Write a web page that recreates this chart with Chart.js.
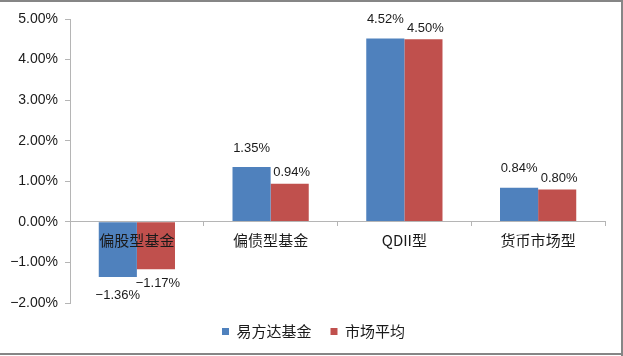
<!DOCTYPE html>
<html>
<head>
<meta charset="utf-8">
<script src="https://cdn.jsdelivr.net/npm/chart.js@4.4.0/dist/chart.umd.min.js"></script>
<style>
html,body{margin:0;padding:0;background:#fff;}
#wrap{width:623px;height:356px;position:relative;}
</style>
</head>
<body>
<div id="wrap"><canvas id="c" width="623" height="356"></canvas></div>
<script>
const categories = ['偏股型基金', '偏债型基金', 'QDII型', '货币市场型'];
const seriesNames = ['易方达基金', '市场平均'];
const efundValues = [-1.36, 1.35, 4.52, 0.84];
const marketValues = [-1.17, 0.94, 4.50, 0.80];
const yTicks = [-2, -1, 0, 1, 2, 3, 4, 5];

const CJK = '"Noto Sans CJK SC", "Noto Sans", sans-serif';
const NUM = '"Liberation Sans", Arial, sans-serif';
const pct = v => (v < 0 ? '\u2212' : '') + Math.abs(v).toFixed(2) + '%';

const labelPlugin = {
  id: 'valueLabels',
  afterDatasetsDraw(chart, args, opts) {
    const ctx = chart.ctx;
    ctx.save();
    ctx.font = '13px ' + NUM;
    ctx.fillStyle = '#1a1a1a';
    ctx.textAlign = 'center';
    ctx.textBaseline = 'middle';
    chart.data.datasets.forEach((ds, di) => {
      const meta = chart.getDatasetMeta(di);
      const o = opts.offsets[di];
      meta.data.forEach((bar, i) => {
        const v = ds.data[i];
        const y = v >= 0 ? bar.y - o.pos : bar.y + o.neg;
        ctx.fillText(pct(v), bar.x + o.dx, y);
      });
    });
    ctx.restore();
  }
};

const legendShift = {
  id: 'legendShift',
  afterUpdate(chart, args, opts) {
    const lg = chart.legend;
    if (!lg) return;
    lg.left += opts.dx; lg.right += opts.dx;
    lg.top += opts.dy; lg.bottom += opts.dy;
  }
};

const borderPlugin = {
  id: 'frame',
  afterDraw(chart) {
    const ctx = chart.ctx;
    ctx.save();
    ctx.fillStyle = '#868686';
    ctx.fillRect(0, 0, 623, 2);
    ctx.fillRect(621, 0, 2, 356);
    ctx.fillRect(0, 353, 623, 2);
    ctx.restore();
  }
};

new Chart(document.getElementById('c'), {
  type: 'bar',
  data: {
    labels: categories,
    datasets: [
      { label: seriesNames[0], data: efundValues, backgroundColor: '#4F81BD', categoryPercentage: 0.57, barPercentage: 1.0 },
      { label: seriesNames[1], data: marketValues, backgroundColor: '#C0504D', categoryPercentage: 0.57, barPercentage: 1.0 }
    ]
  },
  options: {
    responsive: false,
    animation: false,
    devicePixelRatio: 1,
    layout: { padding: { top: 19, right: 18, left: 0, bottom: 9 } },
    scales: {
      x: {
        position: { y: 0 },
        grid: { drawOnChartArea: false, drawTicks: true, tickLength: 4, color: '#b5b5b5', offset: true, z: 1 },
        border: { display: true, color: '#b5b5b5', width: 1, z: 1 },
        ticks: { font: { size: 15, family: CJK }, color: '#1a1a1a', padding: 5, maxRotation: 0, autoSkip: false, z: 1 }
      },
      y: {
        min: -2, max: 5,
        afterBuildTicks(scale) { scale.ticks = yTicks.map(v => ({ value: v })); },
        afterFit(scale) { scale.width = 70; },
        grid: { drawOnChartArea: false, drawTicks: true, tickLength: 5, color: '#b5b5b5' },
        border: { display: true, color: '#b5b5b5', width: 1 },
        ticks: {
          font: { size: 14, family: NUM }, color: '#1a1a1a', padding: 7,
          callback: v => pct(v)
        }
      }
    },
    plugins: {
      legend: {
        position: 'bottom',
        labels: { boxWidth: 7, boxHeight: 7, padding: 19, font: { size: 15, family: CJK }, color: '#1a1a1a' }
      },
      legendShift: { dx: 11, dy: 2 },
      tooltip: { enabled: false },
      valueLabels: { offsets: [ { pos: 19, neg: 18, dx: 0 }, { pos: 11, neg: 14, dx: 2 } ] }
    }
  },
  plugins: [labelPlugin, legendShift, borderPlugin]
});
</script>
</body>
</html>
